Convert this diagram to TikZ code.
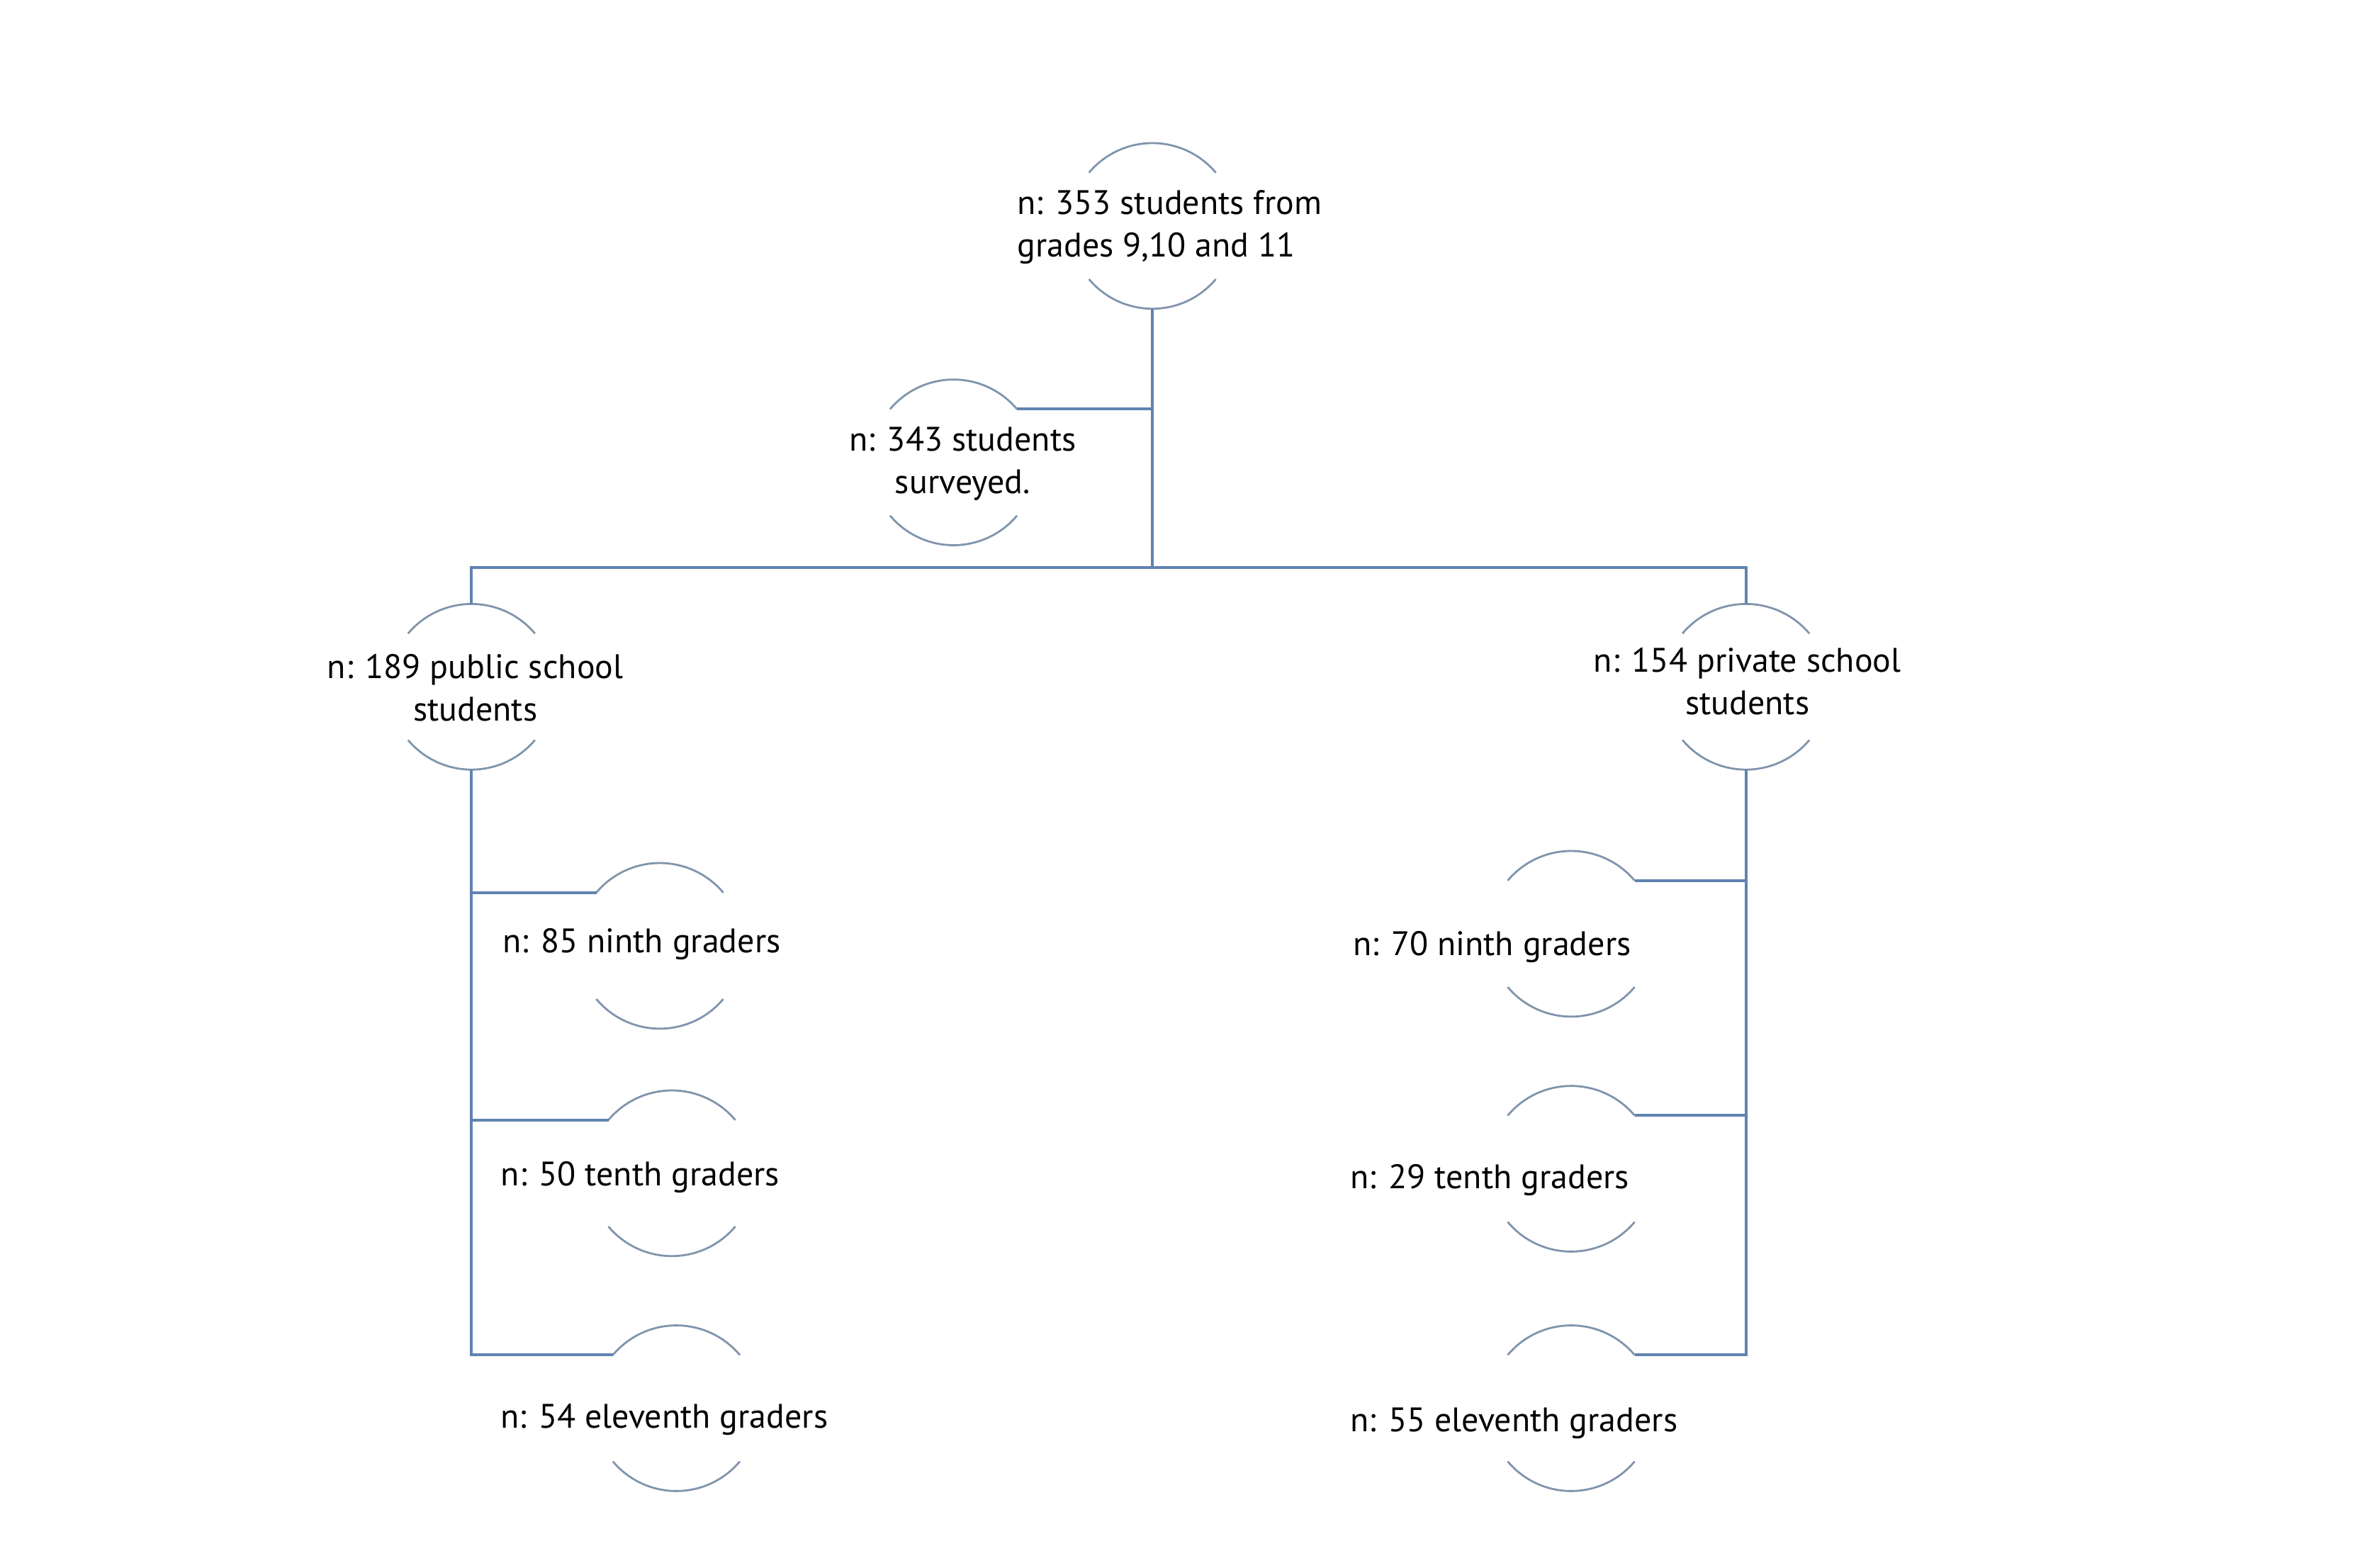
\documentclass[tikz,border=0pt]{standalone}
\usepackage{fontspec}
\setmainfont{PT Sans}
\usepackage{tikz}
\usetikzlibrary{calc,positioning}
\definecolor{wireblue}{RGB}{96,131,176}
\definecolor{rimblue}{RGB}{128,148,172}
\tikzset{
	wire/.style={draw=wireblue,line width=1.1pt},
	rim/.style={draw=rimblue,line width=0.75pt},
	ring/.style={circle,minimum size=2.2cm,inner sep=0pt,outer sep=0pt,
		prefix after command={\pgfextra{\let\fixname\tikzlastnode}},
		append after command={\pgfextra{
			\draw[rim] (\fixname.140) arc[start angle=140,end angle=40,radius=1.1cm];
			\draw[rim] (\fixname.220) arc[start angle=220,end angle=320,radius=1.1cm];}}},
	txt/.style={inner sep=0pt,font=\fontsize{12.85}{16}\selectfont}
}

\begin{document}
\begin{tikzpicture}[x=0.02cm,y=-0.02cm]
      \useasboundingbox (0,0) rectangle (1568,1041);
      \node [ring] (c0) at (765,150) {};
      \node [ring] (c1) at (633,307) {};
      \node [ring] (pu) at (313,456) {};
      \node [ring] (pr) at (1159,456) {};
      \node [ring] (pu9) at (438,628) {};
      \node [ring] (pu10) at (446,779) {};
      \node [ring] (pu11) at (449,935) {};
      \node [ring] (pr9) at (1043,620) {};
      \node [ring] (pr10) at (1043,776) {};
      \node [ring] (pr11) at (1043,935) {};
      \coordinate (mid) at (765,377);
      \node [txt,align=left,anchor=west] (l0) at (675,151) {n: 353 students from\\grades 9,10 and 11};
      \node [txt,align=center] (l1) at (639,308) {n: 343 students\\surveyed.};
      \node [txt,align=center] (lpu) at (315.5,456.5) {n: 189 public school\\students};
      \node [txt,align=center] (lpr) at (1160,452.5) {n: 154 private school\\students};
      \node [txt,anchor=mid] (lpu9) at (426,628) {n: 85 ninth graders};
      \node [txt,anchor=mid] (lpu10) at (425,783) {n: 50 tenth graders};
      \node [txt,anchor=mid] (lpu11) at (441,944) {n: 54 eleventh graders};
      \node [txt,anchor=mid] (lpr9) at (990.5,630) {n: 70 ninth graders};
      \node [txt,anchor=mid] (lpr10) at (989,785) {n: 29 tenth graders};
      \node [txt,anchor=mid] (lpr11) at (1005,946) {n: 55 eleventh graders};
      \draw [wire] (c0.south) -- (mid);
      \draw [wire] (c1.40) -- (c1.40 -| mid);
      \draw [wire] (pu.north) |- (mid) -| (pr.north);
      \draw [wire] (pu.south) |- (pu11.140);
      \draw [wire] (pu9.140) -- (pu9.140 -| pu.south);
      \draw [wire] (pu10.140) -- (pu10.140 -| pu.south);
      \draw [wire] (pr.south) |- (pr11.40);
      \draw [wire] (pr9.40) -- (pr9.40 -| pr.south);
      \draw [wire] (pr10.40) -- (pr10.40 -| pr.south);
   \end{tikzpicture}
\end{document}
